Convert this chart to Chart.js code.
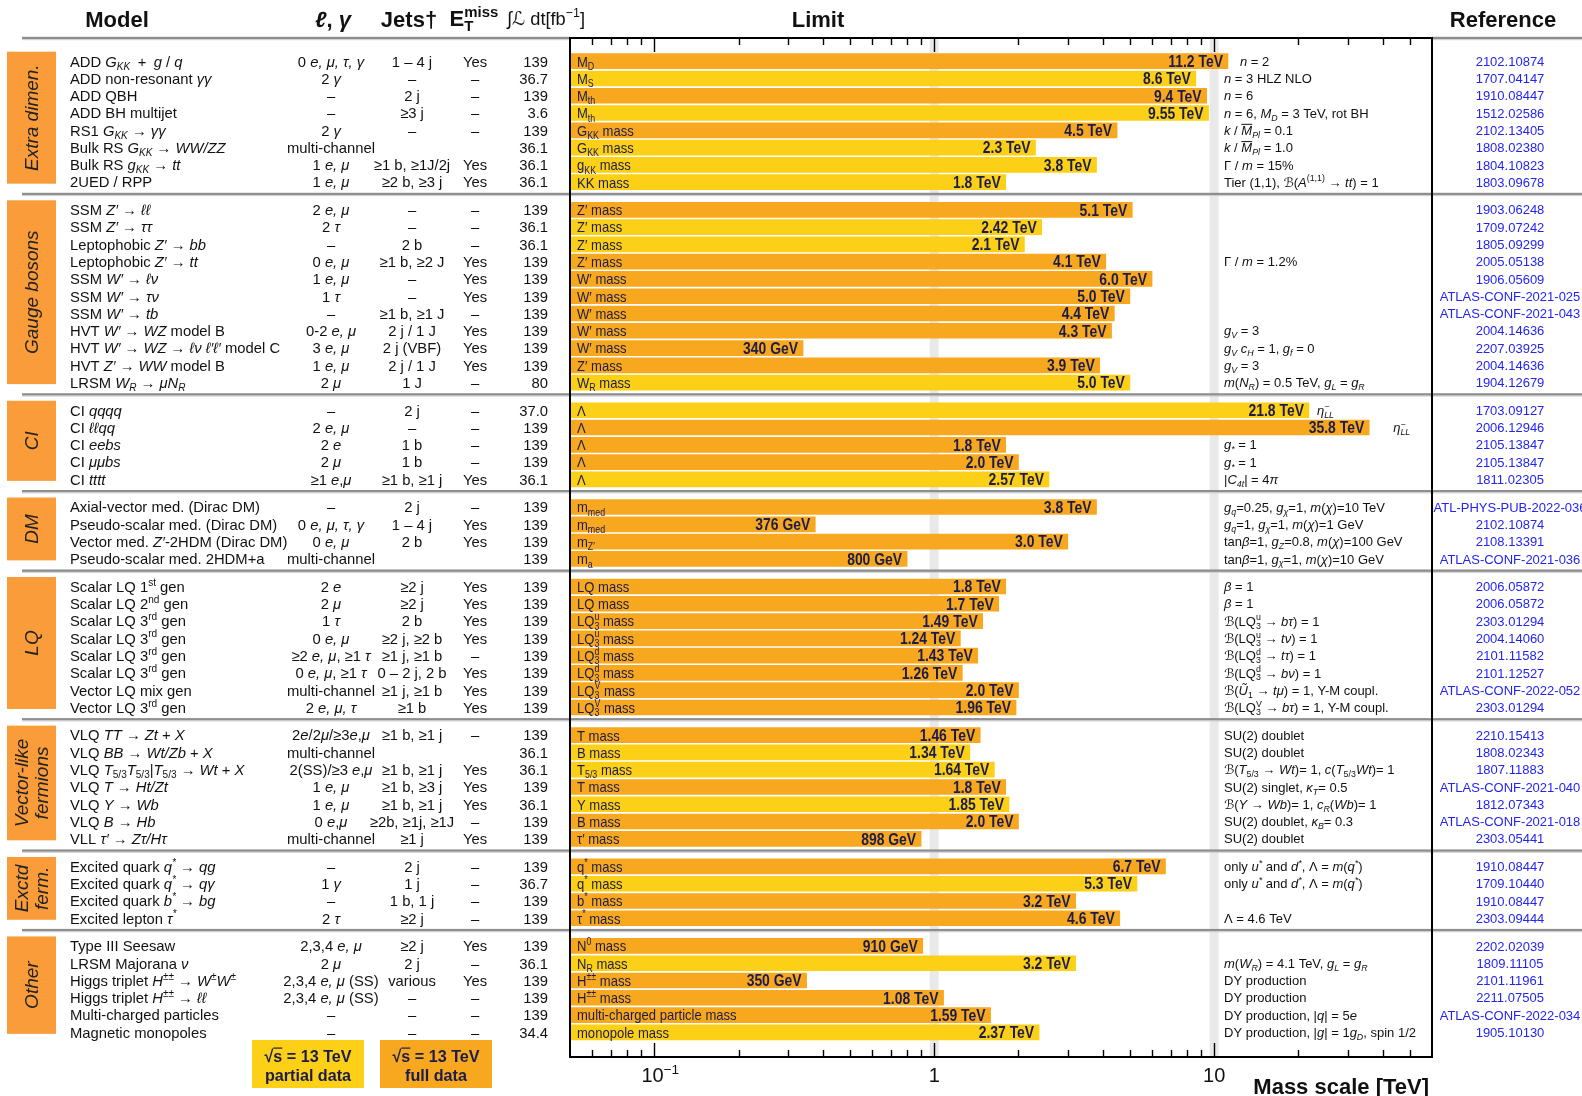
<!DOCTYPE html>
<html>
<head>
<meta charset="utf-8">
<script src="https://cdn.jsdelivr.net/npm/chart.js@4.4.1/dist/chart.umd.min.js"></script>
<style>
  html, body { margin: 0; padding: 0; background: #ffffff; }
  #wrap { width: 1582px; height: 1096px; position: relative; }
</style>
</head>
<body>
<div id="wrap"><canvas id="c" width="1582" height="1096"></canvas></div>
<script>
// ---- Analysis groups -------------------------------------------------------
const groupNames = ['Extra dimen.', 'Gauge bosons', 'CI', 'DM', 'LQ', 'Vector-like\nfermions', 'Exctd\nferm.', 'Other'];
const groupSizes = [8, 11, 5, 4, 8, 7, 4, 6];

// ---- Table columns (mini markup: $..$ italic, _{..} sub, ^{..} sup, ~{..} overline)
const models = [
  'ADD $G_{KK}$\u2002+\u2002$g$ / $q$', 'ADD non-resonant $γγ$', 'ADD QBH', 'ADD BH multijet',
  'RS1 $G_{KK}$ → $γγ$', 'Bulk RS $G_{KK}$ → $WW/ZZ$', 'Bulk RS $g_{KK}$ → $tt$', '2UED / RPP',
  'SSM $Z′$ → $ℓℓ$', 'SSM $Z′$ → $ττ$', 'Leptophobic $Z′$ → $bb$', 'Leptophobic $Z′$ → $tt$',
  'SSM $W′$ → $ℓν$', 'SSM $W′$ → $τν$', 'SSM $W′$ → $tb$', 'HVT $W′$ → $WZ$ model B',
  'HVT $W′$ → $WZ$ → $ℓν ℓ′ℓ′$ model C', 'HVT $Z′$ → $WW$ model B', 'LRSM $W_{R}$ → $μN_{R}$',
  'CI $qqqq$', 'CI $ℓℓqq$', 'CI $eebs$', 'CI $μμbs$', 'CI $tttt$',
  'Axial-vector med. (Dirac DM)', 'Pseudo-scalar med. (Dirac DM)', 'Vector med. $Z′$-2HDM (Dirac DM)', 'Pseudo-scalar med. 2HDM+a',
  'Scalar LQ 1^{st} gen', 'Scalar LQ 2^{nd} gen', 'Scalar LQ 3^{rd} gen', 'Scalar LQ 3^{rd} gen',
  'Scalar LQ 3^{rd} gen', 'Scalar LQ 3^{rd} gen', 'Vector LQ mix gen', 'Vector LQ 3^{rd} gen',
  'VLQ $TT$ → $Zt$ + $X$', 'VLQ $BB$ → $Wt/Zb$ + $X$', 'VLQ $T$_{5/3}$T$_{5/3}|$T$_{5/3} → $Wt$ + $X$',
  'VLQ $T$ → $Ht/Zt$', 'VLQ $Y$ → $Wb$', 'VLQ $B$ → $Hb$', 'VLL $τ′$ → $Zτ/Hτ$',
  'Excited quark $q^{*}$ → $qg$', 'Excited quark $q^{*}$ → $qγ$', 'Excited quark $b^{*}$ → $bg$', 'Excited lepton $τ^{*}$',
  'Type III Seesaw', 'LRSM Majorana $ν$', 'Higgs triplet $H^{±±}$ → $W^{±}W^{±}$', 'Higgs triplet $H^{±±}$ → $ℓℓ$',
  'Multi-charged particles', 'Magnetic monopoles'
];
const leptons = [
  '0 $e, μ, τ, γ$', '2 $γ$', '–', '–', '2 $γ$', 'multi-channel', '1 $e, μ$', '1 $e, μ$',
  '2 $e, μ$', '2 $τ$', '–', '0 $e, μ$', '1 $e, μ$', '1 $τ$', '–', '0-2 $e, μ$', '3 $e, μ$', '1 $e, μ$', '2 $μ$',
  '–', '2 $e, μ$', '2 $e$', '2 $μ$', '≥1 $e$,$μ$',
  '–', '0 $e, μ, τ, γ$', '0 $e, μ$', 'multi-channel',
  '2 $e$', '2 $μ$', '1 $τ$', '0 $e, μ$', '≥2 $e, μ$, ≥1 $τ$', '0 $e, μ$, ≥1 $τ$', 'multi-channel', '2 $e, μ, τ$',
  '2$e$/2$μ$/≥3$e$,$μ$', 'multi-channel', '2(SS)/≥3 $e$,$μ$', '1 $e, μ$', '1 $e, μ$', '0 $e$,$μ$', 'multi-channel',
  '–', '1 $γ$', '–', '2 $τ$',
  '2,3,4 $e, μ$', '2 $μ$', '2,3,4 $e, μ$ (SS)', '2,3,4 $e, μ$ (SS)', '–', '–'
];
const jets = [
  '1 – 4 j', '–', '2 j', '≥3 j', '–', '', '≥1 b, ≥1J/2j', '≥2 b, ≥3 j',
  '–', '–', '2 b', '≥1 b, ≥2 J', '–', '–', '≥1 b, ≥1 J', '2 j / 1 J', '2 j (VBF)', '2 j / 1 J', '1 J',
  '2 j', '–', '1 b', '1 b', '≥1 b, ≥1 j',
  '2 j', '1 – 4 j', '2 b', '',
  '≥2 j', '≥2 j', '2 b', '≥2 j, ≥2 b', '≥1 j, ≥1 b', '0 – 2 j, 2 b', '≥1 j, ≥1 b', '≥1 b',
  '≥1 b, ≥1 j', '', '≥1 b, ≥1 j', '≥1 b, ≥3 j', '≥1 b, ≥1 j', '≥2b, ≥1j, ≥1J', '≥1 j',
  '2 j', '1 j', '1 b, 1 j', '≥2 j',
  '≥2 j', '2 j', 'various', '–', '–', '–'
];
const missingET = [
  'Yes', '–', '–', '–', '–', '', 'Yes', 'Yes',
  '–', '–', '–', 'Yes', 'Yes', 'Yes', '–', 'Yes', 'Yes', 'Yes', '–',
  '–', '–', '–', '–', 'Yes',
  '–', 'Yes', 'Yes', '',
  'Yes', 'Yes', 'Yes', 'Yes', '–', 'Yes', 'Yes', 'Yes',
  '–', '', 'Yes', 'Yes', 'Yes', '–', 'Yes',
  '–', '–', '–', '–',
  'Yes', '–', 'Yes', '–', '–', '–'
];
const luminosity = [
  '139', '36.7', '139', '3.6', '139', '36.1', '36.1', '36.1',
  '139', '36.1', '36.1', '139', '139', '139', '139', '139', '139', '139', '80',
  '37.0', '139', '139', '139', '36.1',
  '139', '139', '139', '139',
  '139', '139', '139', '139', '139', '139', '139', '139',
  '139', '36.1', '36.1', '139', '36.1', '139', '139',
  '139', '36.7', '139', '139',
  '139', '36.1', '139', '139', '139', '34.4'
];
const FULL_LUMI = '139';

// ---- Limits ----------------------------------------------------------------
const barLabels = [
  'M_{D}', 'M_{S}', 'M_{th}', 'M_{th}', 'G_{KK} mass', 'G_{KK} mass', 'g_{KK} mass', 'KK mass',
  'Z′ mass', 'Z′ mass', 'Z′ mass', 'Z′ mass', 'W′ mass', 'W′ mass', 'W′ mass', 'W′ mass', 'W′ mass', 'Z′ mass', 'W_{R} mass',
  'Λ', 'Λ', 'Λ', 'Λ', 'Λ',
  'm_{med}', 'm_{med}', 'm_{Z′}', 'm_{a}',
  'LQ mass', 'LQ mass', 'LQ^{u}_{3} mass', 'LQ^{u}_{3} mass', 'LQ^{d}_{3} mass', 'LQ^{d}_{3} mass', 'LQ^{V}_{3} mass', 'LQ^{V}_{3} mass',
  'T mass', 'B mass', 'T_{5/3} mass', 'T mass', 'Y mass', 'B mass', 'τ′ mass',
  'q^{*} mass', 'q^{*} mass', 'b^{*} mass', 'τ^{*} mass',
  'N^{0} mass', 'N_{R} mass', 'H^{±±} mass', 'H^{±±} mass', 'multi-charged particle mass', 'monopole mass'
];
const limitValues = [
  '11.2', '8.6', '9.4', '9.55', '4.5', '2.3', '3.8', '1.8',
  '5.1', '2.42', '2.1', '4.1', '6.0', '5.0', '4.4', '4.3', '340', '3.9', '5.0',
  '21.8', '35.8', '1.8', '2.0', '2.57',
  '3.8', '376', '3.0', '800',
  '1.8', '1.7', '1.49', '1.24', '1.43', '1.26', '2.0', '1.96',
  '1.46', '1.34', '1.64', '1.8', '1.85', '2.0', '898',
  '6.7', '5.3', '3.2', '4.6',
  '910', '3.2', '350', '1.08', '1.59', '2.37'
];
const limitUnits = [
  'TeV', 'TeV', 'TeV', 'TeV', 'TeV', 'TeV', 'TeV', 'TeV',
  'TeV', 'TeV', 'TeV', 'TeV', 'TeV', 'TeV', 'TeV', 'TeV', 'GeV', 'TeV', 'TeV',
  'TeV', 'TeV', 'TeV', 'TeV', 'TeV',
  'TeV', 'GeV', 'TeV', 'GeV',
  'TeV', 'TeV', 'TeV', 'TeV', 'TeV', 'TeV', 'TeV', 'TeV',
  'TeV', 'TeV', 'TeV', 'TeV', 'TeV', 'TeV', 'GeV',
  'TeV', 'TeV', 'TeV', 'TeV',
  'GeV', 'TeV', 'GeV', 'TeV', 'TeV', 'TeV'
];
const notes = [
  '$n$ = 2', '$n$ = 3 HLZ NLO', '$n$ = 6', '$n$ = 6, $M_{D}$ = 3 TeV, rot BH',
  '$k$ / $~{M}_{Pl}$ = 0.1', '$k$ / $~{M}_{Pl}$ = 1.0', 'Γ / $m$ = 15%', 'Tier (1,1), ℬ($A$^{(1,1)} → $tt$) = 1',
  '', '', '', 'Γ / $m$ = 1.2%', '', '', '', '$g_{V}$ = 3', '$g_{V} c_{H}$ = 1, $g_{f}$ = 0', '$g_{V}$ = 3',
  '$m$($N_{R}$) = 0.5 TeV, $g_{L}$ = $g_{R}$',
  '$η^{−}_{LL}$', '$η^{−}_{LL}$', '$g_{*}$ = 1', '$g_{*}$ = 1', '|$C_{4t}$| = 4$π$',
  '$g_{q}$=0.25, $g_{χ}$=1, $m$($χ$)=10 TeV', '$g_{q}$=1, $g_{χ}$=1, $m$($χ$)=1 GeV',
  'tan$β$=1, $g_{Z}$=0.8, $m$($χ$)=100 GeV', 'tan$β$=1, $g_{χ}$=1, $m$($χ$)=10 GeV',
  '$β$ = 1', '$β$ = 1', 'ℬ(LQ^{u}_{3} → $bτ$) = 1', 'ℬ(LQ^{u}_{3} → $tν$) = 1',
  'ℬ(LQ^{d}_{3} → $tτ$) = 1', 'ℬ(LQ^{d}_{3} → $bν$) = 1', 'ℬ($Ũ$_{1} → $tμ$) = 1, Y-M coupl.', 'ℬ(LQ^{V}_{3} → $bτ$) = 1, Y-M coupl.',
  'SU(2) doublet', 'SU(2) doublet', 'ℬ($T$_{5/3} → $Wt$)= 1, $c$($T$_{5/3}$Wt$)= 1', 'SU(2) singlet, $κ_{T}$= 0.5',
  'ℬ($Y$ → $Wb$)= 1, $c_{R}$($Wb$)= 1', 'SU(2) doublet, $κ_{B}$= 0.3', 'SU(2) doublet',
  'only $u^{*}$ and $d^{*}$, Λ = $m$($q^{*}$)', 'only $u^{*}$ and $d^{*}$, Λ = $m$($q^{*}$)', '', 'Λ = 4.6 TeV',
  '', '$m$($W_{R}$) = 4.1 TeV, $g_{L}$ = $g_{R}$', 'DY production', 'DY production',
  'DY production, |$q$| = 5$e$', 'DY production, |$g$| = 1$g_{D}$, spin 1/2'
];
const references = [
  '2102.10874', '1707.04147', '1910.08447', '1512.02586', '2102.13405', '1808.02380', '1804.10823', '1803.09678',
  '1903.06248', '1709.07242', '1805.09299', '2005.05138', '1906.05609', 'ATLAS-CONF-2021-025', 'ATLAS-CONF-2021-043',
  '2004.14636', '2207.03925', '2004.14636', '1904.12679',
  '1703.09127', '2006.12946', '2105.13847', '2105.13847', '1811.02305',
  'ATL-PHYS-PUB-2022-036', '2102.10874', '2108.13391', 'ATLAS-CONF-2021-036',
  '2006.05872', '2006.05872', '2303.01294', '2004.14060', '2101.11582', '2101.12527', 'ATLAS-CONF-2022-052', '2303.01294',
  '2210.15413', '1808.02343', '1807.11883', 'ATLAS-CONF-2021-040', '1812.07343', 'ATLAS-CONF-2021-018', '2303.05441',
  '1910.08447', '1709.10440', '1910.08447', '2303.09444',
  '2202.02039', '1809.11105', '2101.11961', '2211.07505', 'ATLAS-CONF-2022-034', '1905.10130'
];

// ---- Axis ------------------------------------------------------------------
const massMin = 0.05, massMax = 60;
const labelledTicks = [0.1, 1, 10];
const labelledTickText = ['10^{−1}', '1', '10'];
const legendItems = [
  { line1: '√~{s} = 13 TeV', line2: 'partial data', full: false },
  { line1: '√~{s} = 13 TeV', line2: 'full data', full: true }
];

// ---- Styling ---------------------------------------------------------------
const SANS = '"Liberation Sans", Arial, Helvetica, "DejaVu Sans", sans-serif';
const COL_FULL = '#f7a81e';
const COL_PARTIAL = '#fcd016';
const COL_GROUP = '#fa9c3a';
const INK = '#111111';
const NAVY = '#1c1c4c';
const REF_BLUE = '#2424f2';
const GROUP_GAP = 0.6;
const TABLE_SIZE = 14.8;

const massTeV = limitValues.map((v, i) => parseFloat(v) / (limitUnits[i] === 'GeV' ? 1000 : 1));
const rowPos = [];
const groupRows = [];
{
  let k = 0;
  groupSizes.forEach((n, g) => {
    const rows = [];
    for (let j = 0; j < n; j++) { rows.push(k); rowPos.push(k + GROUP_GAP * g); k++; }
    groupRows.push(rows);
  });
}

// ---- Rich text helpers ------------------------------------------------------
function tokenize(s) {
  const out = [];
  let it = false, buf = '';
  const flush = () => { if (buf) { out.push({ t: buf, it, pos: 'base' }); buf = ''; } };
  for (let i = 0; i < s.length; i++) {
    const c = s[i];
    if (c === '$') { flush(); it = !it; continue; }
    if ((c === '_' || c === '^' || c === '~') && s[i + 1] === '{') {
      flush();
      const end = s.indexOf('}', i + 2);
      const pos = c === '_' ? 'sub' : c === '^' ? 'sup' : 'over';
      const prev = out[out.length - 1];
      const stack = !!prev && ((pos === 'sub' && prev.pos === 'sup') || (pos === 'sup' && prev.pos === 'sub'));
      out.push({ t: s.slice(i + 2, end), it, pos, stack });
      i = end;
      continue;
    }
    buf += c;
  }
  flush();
  return out;
}
function fontFor(tk, o) {
  const small = tk.pos === 'sub' || tk.pos === 'sup';
  const sz = o.size * (small ? 0.68 : 1);
  return (tk.it ? 'italic ' : '') + (o.bold ? 'bold ' : '') + sz.toFixed(2) + 'px ' + (o.family || SANS);
}
function layoutRich(ctx, s, o) {
  let x = 0, prevStart = 0, prevW = 0;
  const placed = [];
  for (const tk of tokenize(s)) {
    const font = fontFor(tk, o);
    ctx.font = font;
    const w = ctx.measureText(tk.t).width;
    let start;
    if (tk.stack) { start = prevStart; x = Math.max(prevStart + prevW, start + w); }
    else { start = x; x += w; }
    placed.push(Object.assign({}, tk, { x: start, w, font }));
    prevStart = start; prevW = w;
  }
  return { placed, width: x };
}
function drawRich(ctx, s, x, y, o) {
  if (!s) return 0;
  const sx = o.sx || 1;
  const { placed, width } = layoutRich(ctx, s, o);
  const W = width * sx;
  let x0 = 0;
  if (o.align === 'center') x0 = -W / 2;
  else if (o.align === 'right') x0 = -W;
  ctx.save();
  ctx.translate(x + x0, y + o.size * 0.36);
  ctx.scale(sx, 1);
  ctx.fillStyle = o.color || INK;
  ctx.textBaseline = 'alphabetic';
  ctx.textAlign = 'left';
  for (const p of placed) {
    ctx.font = p.font;
    let dy = 0;
    if (p.pos === 'sup') dy = -o.size * 0.42;
    if (p.pos === 'sub') dy = o.size * 0.22;
    ctx.fillText(p.t, p.x, dy);
    if (p.pos === 'over') ctx.fillRect(p.x, -o.size * 0.86, p.w, Math.max(1, o.size * 0.07));
  }
  ctx.restore();
  return W;
}

// ---- Table, frame and decorations drawn around the bars --------------------
const COL = { model: 70, lep: 331, jets: 412, met: 475, lumi: 548, note: 1224, ref: 1510 };
// gap between a long bar and a note that has to sit to its right
const noteGapAfterBar = { 19: 8, 20: 24 };

const summaryPlugin = {
  id: 'summaryTable',
  beforeDatasetsDraw(chart) {
    const { ctx, chartArea: a, scales: { x } } = chart;
    ctx.save();
    ctx.fillStyle = '#e9e9e9';
    labelledTicks.filter(v => v >= 1).forEach(v => {
      const px = x.getPixelForValue(v);
      ctx.fillRect(px - 4.5, a.top, 9, a.bottom - a.top);
    });
    ctx.restore();
  },
  afterDatasetsDraw(chart) {
    const { ctx, chartArea: a } = chart;
    const bars = chart.getDatasetMeta(0).data;
    bars.forEach((bar, i) => {
      drawRich(ctx, barLabels[i], a.left + 7, bar.y, { size: 15, color: NAVY, sx: 0.87 });
      const valueText = limitValues[i] + ' ' + limitUnits[i];
      drawRich(ctx, valueText, bar.x - 5, bar.y, { size: 16, bold: true, color: NAVY, sx: 0.87, align: 'right' });
    });
  },
  afterDraw(chart) {
    const { ctx, chartArea: a, scales: { x, y } } = chart;
    const W = chart.width;
    const rowPx = i => y.getPixelForValue(rowPos[i]);

    // group separators
    ctx.save();
    const sepLine = (py, x1, x2) => {
      ctx.fillStyle = '#8e8e8e';
      ctx.fillRect(x1, py - 1.2, x2 - x1, 2.4);
      ctx.fillStyle = '#cfcfcf';
      ctx.fillRect(x1, py + 1.2, x2 - x1, 1);
    };
    for (let g = 0; g < groupRows.length - 1; g++) {
      const last = groupRows[g][groupRows[g].length - 1];
      const first = groupRows[g + 1][0];
      const py = (rowPx(last) + rowPx(first)) / 2 - 2;
      sepLine(py, 22, W);
    }
    sepLine(a.top, 22, a.left);
    sepLine(a.top, a.right, W);
    ctx.restore();

    // group boxes
    groupRows.forEach((rows, g) => {
      const top = rowPx(rows[0]) - 9.5;
      const bottom = rowPx(rows[rows.length - 1]) + 1.5;
      ctx.fillStyle = COL_GROUP;
      ctx.fillRect(7, top, 49, bottom - top);
      const lines = groupNames[g].split('\n');
      ctx.save();
      ctx.translate(31.5, (top + bottom) / 2);
      ctx.rotate(-Math.PI / 2);
      const lh = 20;
      lines.forEach((ln, k) => {
        const off = (k - (lines.length - 1) / 2) * lh;
        drawRich(ctx, '$' + ln + '$', 0, off, { size: 19, color: '#222222', align: 'center' });
      });
      ctx.restore();
    });

    // table rows
    const bars = chart.getDatasetMeta(0).data;
    models.forEach((m, i) => {
      const py = rowPx(i);
      drawRich(ctx, m, COL.model, py, { size: TABLE_SIZE });
      drawRich(ctx, leptons[i], COL.lep, py, { size: TABLE_SIZE, align: 'center' });
      drawRich(ctx, jets[i], COL.jets, py, { size: TABLE_SIZE, align: 'center' });
      drawRich(ctx, missingET[i], COL.met, py, { size: TABLE_SIZE, align: 'center' });
      drawRich(ctx, luminosity[i], COL.lumi, py, { size: TABLE_SIZE, align: 'right' });
      const barEnd = bars[i].x;
      const gap = noteGapAfterBar[i] !== undefined ? noteGapAfterBar[i] : 12;
      const noteX = barEnd + gap > COL.note ? barEnd + gap : COL.note;
      drawRich(ctx, notes[i], noteX, py, { size: 13 });
      drawRich(ctx, references[i], COL.ref, py, { size: 13, color: REF_BLUE, align: 'center' });
    });

    // header
    const hy = 19.5;
    drawRich(ctx, 'Model', 117, hy, { size: 22, bold: true, align: 'center' });
    drawRich(ctx, '$ℓ$, $γ$', 333, hy, { size: 22, bold: true, align: 'center' });
    drawRich(ctx, 'Jets†', 409, hy, { size: 22, bold: true, align: 'center' });
    drawRich(ctx, 'E^{miss}_{T}', 474, hy - 1, { size: 22, bold: true, align: 'center' });
    drawRich(ctx, '∫ℒ dt[fb^{−1}]', 546, hy - 1, { size: 19, align: 'center', sx: 0.96 });
    drawRich(ctx, 'Limit', 818, hy, { size: 22, bold: true, align: 'center' });
    drawRich(ctx, 'Reference', 1503, hy, { size: 22, bold: true, align: 'center' });

    // frame
    ctx.save();
    ctx.strokeStyle = '#000000';
    ctx.lineWidth = 2;
    ctx.strokeRect(a.left, a.top, a.right - a.left, a.bottom - a.top);

    // log ticks, top and bottom
    ctx.lineWidth = 1.4;
    const lo = Math.floor(Math.log10(massMin)), hi = Math.ceil(Math.log10(massMax));
    for (let e = lo; e <= hi; e++) {
      for (let m = 1; m <= 9; m++) {
        const v = m * Math.pow(10, e);
        if (v <= massMin * 1.0001 || v >= massMax * 0.9999) continue;
        const px = Math.round(x.getPixelForValue(v)) + 0.5;
        const len = m === 1 ? 14 : 7;
        ctx.beginPath();
        ctx.moveTo(px, a.top); ctx.lineTo(px, a.top + len);
        ctx.moveTo(px, a.bottom); ctx.lineTo(px, a.bottom - len);
        ctx.stroke();
      }
    }
    ctx.restore();

    labelledTicks.forEach((v, k) => {
      const px = x.getPixelForValue(v);
      const shift = v < 1 ? 6 : 0;
      drawRich(ctx, labelledTickText[k], px + shift, a.bottom + 18, { size: 20, align: 'center' });
    });
    drawRich(ctx, 'Mass scale [TeV]', a.right - 3, a.bottom + 29, { size: 22, bold: true, align: 'right' });

    // legend boxes
    legendItems.forEach((it, k) => {
      const bx = 252 + k * 128, by = 1040, bw = 112, bh = 48;
      ctx.fillStyle = it.full ? COL_FULL : COL_PARTIAL;
      ctx.fillRect(bx, by, bw, bh);
      drawRich(ctx, it.line1, bx + bw / 2, by + 16, { size: 17, bold: true, color: NAVY, align: 'center', sx: 0.95 });
      drawRich(ctx, it.line2, bx + bw / 2, by + 35, { size: 17, bold: true, color: NAVY, align: 'center', sx: 0.95 });
    });
  }
};

// ---- Vertical mapping: row index -> pixels ---------------------------------
const AREA_TOP = 38, AREA_BOTTOM = 1057, ROW0_PX = 61.2, ROW_PX = 17.28;
const yMin = -(ROW0_PX - AREA_TOP) / ROW_PX;
const yMax = yMin + (AREA_BOTTOM - AREA_TOP) / ROW_PX;

new Chart(document.getElementById('c'), {
  type: 'bar',
  data: {
    datasets: [{
      data: massTeV.map((m, i) => ({ x: m, y: rowPos[i] })),
      backgroundColor: luminosity.map(l => (l === FULL_LUMI ? COL_FULL : COL_PARTIAL)),
      borderWidth: 0,
      barThickness: 15
    }]
  },
  options: {
    indexAxis: 'y',
    responsive: false,
    animation: false,
    layout: { padding: { left: 570, right: 150, top: AREA_TOP, bottom: 1096 - AREA_BOTTOM } },
    scales: {
      x: { type: 'logarithmic', min: massMin, max: massMax, display: false, offset: false },
      y: { type: 'linear', min: yMin, max: yMax, reverse: true, display: false, offset: false }
    },
    plugins: { legend: { display: false }, tooltip: { enabled: false } }
  },
  plugins: [summaryPlugin]
});
</script>
</body>
</html>
